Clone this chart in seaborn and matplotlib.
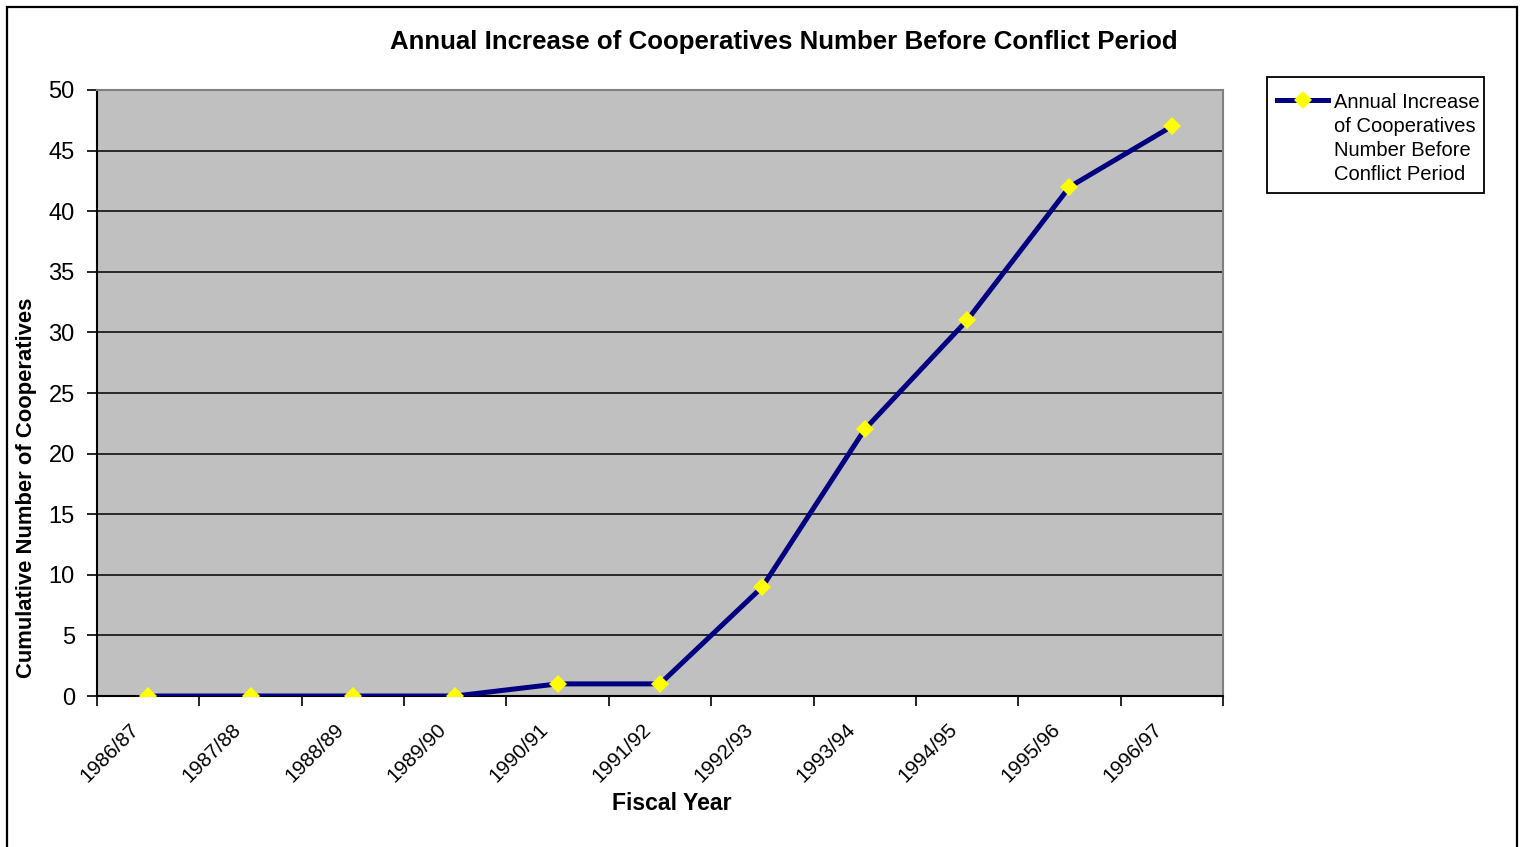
import numpy as np
import pandas as pd
import matplotlib
matplotlib.use("Agg")
import matplotlib.pyplot as plt
import matplotlib.transforms as mtransforms
from matplotlib.patches import Rectangle
from matplotlib.lines import Line2D
import seaborn as sns

years = ["1986/87", "1987/88", "1988/89", "1989/90", "1990/91", "1991/92",
         "1992/93", "1993/94", "1994/95", "1995/96", "1996/97"]
cumulative = [0, 0, 0, 0, 1, 1, 9, 22, 31, 42, 47]
y_ticks = [0, 5, 10, 15, 20, 25, 30, 35, 40, 45, 50]
series_name = "Annual Increase of Cooperatives Number Before Conflict Period"
legend_lines = ["Annual Increase", "of Cooperatives", "Number Before", "Conflict Period"]

plt.rcParams['font.family'] = ['Liberation Sans', 'DejaVu Sans']

W, H = 1521, 847
fig = plt.figure(figsize=(W / 100, H / 100), dpi=100)
fig.patch.set_facecolor("white")

def fx(px):
    return px / W

def fy(py):
    return 1 - py / H

ax = fig.add_axes([fx(97), fy(696), fx(1223) - fx(97), fy(90) - fy(696)])
ax.set_facecolor("#C0C0C0")

df = pd.DataFrame({"pos": np.arange(len(years)), "value": cumulative, "series": series_name})
sns.lineplot(data=df, x="pos", y="value", ax=ax, color="#000080", linewidth=3.6,
             marker="D", markersize=9, markerfacecolor="#FFFF00",
             markeredgecolor="#FFFF00", markeredgewidth=0, legend=False, zorder=3)

ax.set_xlim(-0.5, len(years) - 0.5)
ax.set_ylim(0, 50)
ax.set_yticks(y_ticks)
ax.set_yticklabels([str(v) for v in y_ticks], fontsize=17)
ax.yaxis.grid(True, color="black", linewidth=1.1)
ax.set_axisbelow(True)
ax.tick_params(axis="y", length=7, width=1.2, color="black", pad=9)

# major ticks on category boundaries, labels at centers
ax.set_xticks(np.arange(-0.5, len(years) + 0.5, 1.0))
ax.set_xticklabels([])
ax.tick_params(axis="x", which="major", length=7, width=1.2, color="black")
ax.set_xticks(np.arange(len(years)), minor=True)
ax.set_xticklabels(years, minor=True, fontsize=14.8, rotation=45,
                   ha="right", va="top", rotation_mode="anchor")
ax.tick_params(axis="x", which="minor", length=0, pad=17)
offset = mtransforms.ScaledTranslation(-19 / 100, 0, fig.dpi_scale_trans)
for lab in ax.get_xticklabels(minor=True):
    lab.set_transform(lab.get_transform() + offset)

ax.set_xlabel("")
ax.set_ylabel("")
for side in ["left", "bottom"]:
    ax.spines[side].set_color("black")
    ax.spines[side].set_linewidth(1.5)
for side in ["top", "right"]:
    ax.spines[side].set_color("#808080")
    ax.spines[side].set_linewidth(1.5)

fig.text(fx(784), fy(42), "Annual Increase of Cooperatives Number Before Conflict Period",
         ha="center", va="center", fontsize=18.6, fontweight="bold")
fig.text(fx(672), fy(803), "Fiscal Year", ha="center", va="center",
         fontsize=16.6, fontweight="bold")
fig.text(fx(27), fy(488), "Cumulative Number of Cooperatives", ha="center", va="center",
         rotation=90, fontsize=15.8, fontweight="bold")

# legend box
fig.patches.append(Rectangle((fx(1267), fy(193)), fx(1484) - fx(1267), fy(77) - fy(193),
                             transform=fig.transFigure, facecolor="white",
                             edgecolor="black", linewidth=1.3))
fig.lines.append(Line2D([fx(1277), fx(1328)], [fy(100), fy(100)], transform=fig.transFigure,
                        color="#000080", linewidth=3.6))
fig.lines.append(Line2D([fx(1303)], [fy(100)], transform=fig.transFigure, marker="D",
                        markersize=9, markerfacecolor="#FFFF00", markeredgewidth=0,
                        linestyle="none"))
for i, line in enumerate(legend_lines):
    fig.text(fx(1334), fy(103 + i * 23.7), line, ha="left", va="center", fontsize=14.5)

# outer chart frame
fig.patches.append(Rectangle((fx(7), fy(900)), fx(1517) - fx(7), fy(7) - fy(900),
                             transform=fig.transFigure, facecolor="none",
                             edgecolor="black", linewidth=1.6))

fig.savefig("out.png", dpi=100)
